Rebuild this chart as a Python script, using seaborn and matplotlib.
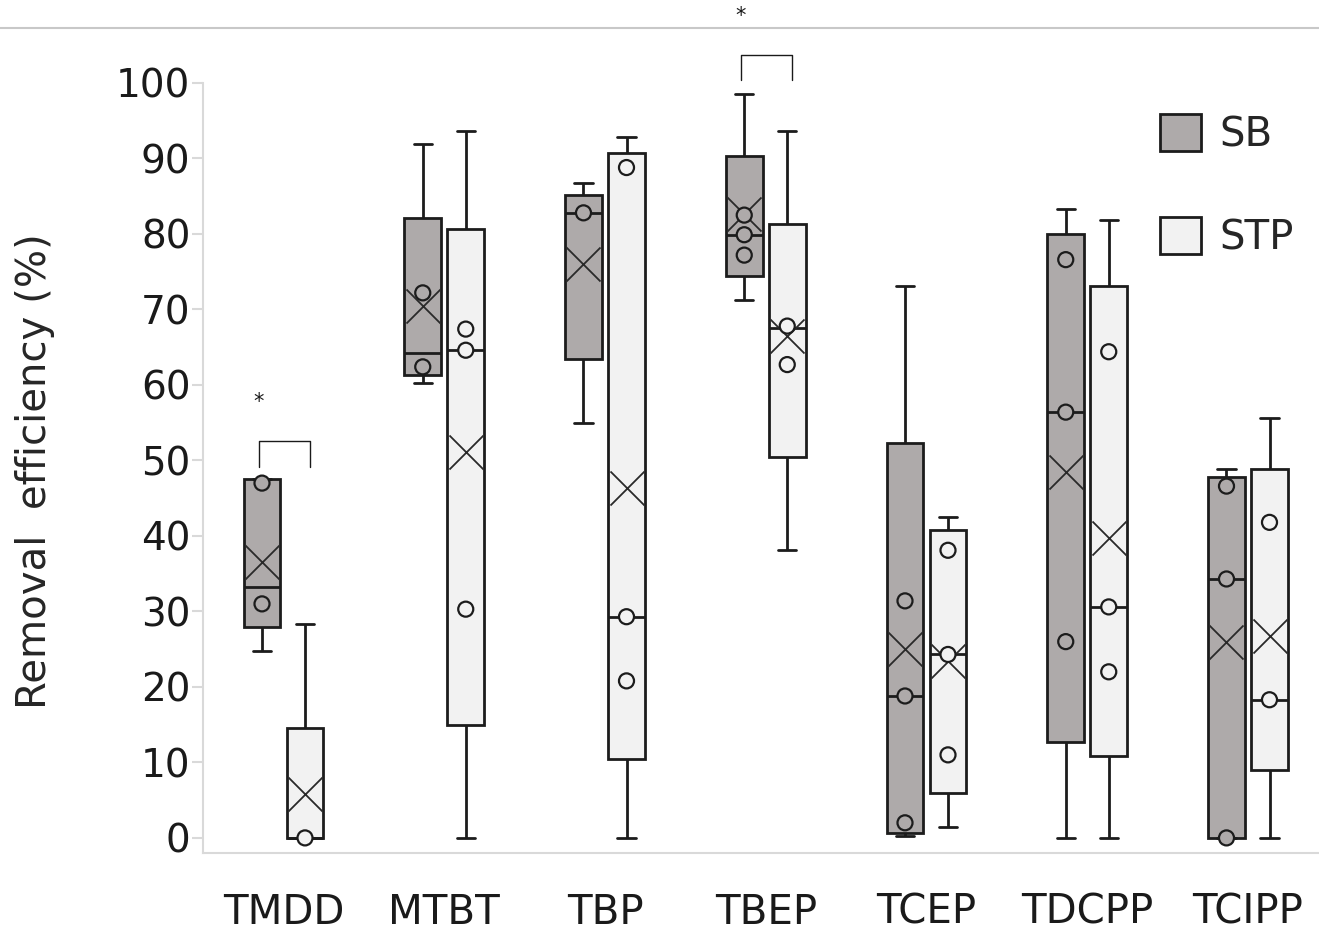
import numpy as np
import pandas as pd
import matplotlib
matplotlib.use("Agg")
import matplotlib.pyplot as plt
import seaborn as sns
from matplotlib.patches import Patch
from matplotlib.lines import Line2D

# ---------------- data ----------------
categories = ["TMDD", "MTBT", "TBP", "TBEP", "TCEP", "TDCPP", "TCIPP"]
groups = ["SB", "STP"]

# SB box statistics
sb_min = [24.7, 60.2, 54.9, 71.3, 0.3, 0.0, 0.0]
sb_q1 = [28.0, 61.3, 63.4, 74.4, 0.7, 12.7, 0.0]
sb_median = [33.2, 64.2, 82.8, 79.9, 18.8, 56.4, 34.3]
sb_q3 = [47.5, 82.1, 85.2, 90.3, 52.3, 80.0, 47.8]
sb_max = [47.5, 91.9, 86.7, 98.5, 73.1, 83.3, 48.9]
sb_mean = [36.6, 70.5, 76.0, 82.7, 25.0, 48.5, 26.0]
sb_points = [[47.0, 31.0], [72.2, 62.4], [82.8], [82.5, 79.9, 77.2],
             [31.4, 18.8, 2.0], [76.6, 56.4, 26.0], [46.6, 34.3, 0.0]]

# STP box statistics
stp_min = [0.0, 0.0, 0.0, 38.1, 1.5, 0.0, 0.0]
stp_q1 = [0.0, 15.0, 10.4, 50.5, 6.0, 10.8, 9.0]
stp_median = [0.0, 64.6, 29.3, 67.6, 24.3, 30.6, 18.3]
stp_q3 = [14.6, 80.6, 90.7, 81.3, 40.8, 73.1, 48.9]
stp_max = [28.3, 93.7, 92.9, 93.7, 42.5, 81.8, 55.6]
stp_mean = [5.8, 51.1, 46.4, 66.5, 23.4, 39.7, 26.8]
stp_points = [[0.0], [67.4, 64.6, 30.3], [88.8, 29.3, 20.8], [67.8, 62.7],
              [38.1, 24.3, 11.0], [64.4, 30.6, 22.0], [41.8, 18.3]]

# significance brackets: category, leg bottom, bracket top, star height
sig_category = ["TMDD", "TBEP"]
sig_leg_bottom = [49.1, 100.4]
sig_top = [52.6, 103.7]
sig_star = [57.8, 108.9]
sig_label = ["*", "*"]

# ---------------- build tables ----------------
stats = {
    "SB": (sb_min, sb_q1, sb_median, sb_q3, sb_max),
    "STP": (stp_min, stp_q1, stp_median, stp_q3, stp_max),
}
means = {"SB": sb_mean, "STP": stp_mean}
points = {"SB": sb_points, "STP": stp_points}

W = 0.535
offsets = {"SB": -W / 4, "STP": W / 4}

rows = []
for g in groups:
    for i, _ in enumerate(categories):
        for arr in stats[g]:
            rows.append({"pos": i, "group": g, "value": arr[i]})
box_df = pd.DataFrame(rows)

pt_rows, mean_rows = [], []
for g in groups:
    for i, _ in enumerate(categories):
        for v in points[g][i]:
            pt_rows.append({"x": i + offsets[g], "group": g, "value": v})
        mean_rows.append({"x": i + offsets[g], "group": g, "value": means[g][i]})
pt_df = pd.DataFrame(pt_rows)
mean_df = pd.DataFrame(mean_rows)

# ---------------- plot ----------------
sns.set_theme(style="white")
plt.rcParams["font.family"] = ["DejaVu Sans"]

FW, FH = 1319, 941
fig = plt.figure(figsize=(FW / 100, FH / 100), dpi=100)
ax_left, ax_right, ax_top, ax_bottom = 203, 1319, 83, 853
ax = fig.add_axes([ax_left / FW, 1 - ax_bottom / FH,
                   (ax_right - ax_left) / FW, (ax_bottom - ax_top) / FH])

palette = {"SB": "#AEAAAA", "STP": "#F2F2F2"}
edge = "#1c1c1c"

sns.boxplot(data=box_df, x="pos", y="value", hue="group", hue_order=groups,
            palette=palette, native_scale=True, width=W, gap=0.15,
            whis=(0, 100), linewidth=2.0, linecolor=edge, saturation=1,
            showfliers=False, legend=False, ax=ax)

sns.scatterplot(data=mean_df, x="x", y="value", marker="x", color="#2a2a2a",
                s=600, linewidth=1.3, legend=False, zorder=5, ax=ax)
sns.scatterplot(data=pt_df, x="x", y="value", hue="group", hue_order=groups,
                palette=palette, s=117, edgecolor=edge, linewidth=1.6,
                legend=False, zorder=6, ax=ax)

# significance brackets
for cat, lb, tp, st, lab in zip(sig_category, sig_leg_bottom, sig_top, sig_star, sig_label):
    i = categories.index(cat)
    x0, x1 = i + offsets["SB"] - 0.02, i + offsets["STP"] + 0.03
    ax.plot([x0, x0, x1, x1], [lb, tp, tp, lb], color="#1a1a1a", lw=1.0,
            clip_on=False, zorder=7)
    ax.text(x0, st, lab, ha="center", va="center", fontsize=15,
            color="#1a1a1a", clip_on=False)

ax.set_xlim(-(283.5 - ax_left) / 160.75, (ax_right - 283.5) / 160.75)
ax.set_ylim(-2.0, 100)
ax.set_xticks(range(len(categories)))
ax.set_xticklabels(categories, fontsize=29, color="#1a1a1a")
ax.set_yticks(range(0, 101, 10))
ax.set_yticklabels([str(v) for v in range(0, 101, 10)], fontsize=28, color="#1a1a1a")
ax.tick_params(axis="x", length=0, pad=28.5)
ax.tick_params(axis="y", left=True, length=8, width=1.5, color="#D9D9D9", pad=1)
ax.set_xlabel("")
ax.set_ylabel("Removal  efficiency (%)", fontsize=29, color="#262626")
ax.yaxis.set_label_coords((55 - ax_left) / (ax_right - ax_left), 0.496)

for s in ["top", "right"]:
    ax.spines[s].set_visible(False)
for s in ["left", "bottom"]:
    ax.spines[s].set_color("#D9D9D9")
    ax.spines[s].set_linewidth(1.5)

handles = [Patch(facecolor=palette[g], edgecolor=edge, linewidth=2, label=g) for g in groups]
ax.legend(handles=handles, loc="upper left", bbox_to_anchor=(1160 / FW, 1 - 114 / FH),
          bbox_transform=fig.transFigure, frameon=False, fontsize=29,
          handlelength=1.02, handleheight=1.02, handletextpad=0.45,
          labelspacing=1.55, borderpad=0, borderaxespad=0)

fig.add_artist(Line2D([0, 1], [1 - 28 / FH, 1 - 28 / FH], transform=fig.transFigure,
                      color="#C8C8C8", lw=1.5))

fig.savefig("out.png", dpi=100)
